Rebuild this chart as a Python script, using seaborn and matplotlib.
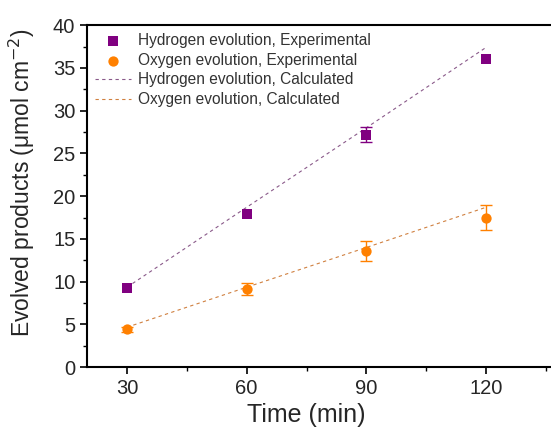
import matplotlib
matplotlib.use("Agg")
import matplotlib.pyplot as plt
import seaborn as sns
import pandas as pd
from matplotlib.ticker import MultipleLocator

# tiempos y valores
tiempo = [30, 60, 90, 120]
h2_exp = [9.3, 17.95, 27.2, 36.0]
h2_err = [0.0, 0.0, 0.85, 0.0]
o2_exp = [4.45, 9.1, 13.6, 17.5]
o2_err = [0.3, 0.7, 1.2, 1.5]
h2_calc = [9.35, 18.7, 28.0, 37.4]
o2_calc = [4.67, 9.35, 14.0, 18.7]

morado = "#800080"
naranja = "#FF8000"

sns.set_style("ticks")
plt.rcParams["font.family"] = ["Liberation Sans", "DejaVu Sans"]

fig = plt.figure(figsize=(5.51, 4.34), dpi=100)
ax = fig.add_axes([0.158, 0.154, 0.869, 0.788])

df = pd.DataFrame({"t": tiempo, "h2": h2_exp, "o2": o2_exp,
                   "h2e": h2_err, "o2e": o2_err,
                   "h2c": h2_calc, "o2c": o2_calc})

# solo barras de error donde hay error
for col, err, c in [("h2", "h2e", morado), ("o2", "o2e", naranja)]:
    sub = df[df[err] > 0]
    ax.errorbar(sub["t"], sub[col], yerr=sub[err], fmt="none", ecolor=c,
                elinewidth=1, capsize=4, zorder=2)

sns.scatterplot(data=df, x="t", y="h2", marker="s", s=50, color=morado,
                edgecolor=morado, linewidth=0, ax=ax, zorder=3,
                label="Hydrogen evolution, Experimental")
sns.scatterplot(data=df, x="t", y="o2", marker="o", s=55, color=naranja,
                edgecolor=naranja, linewidth=0, ax=ax, zorder=3,
                label="Oxygen evolution, Experimental")
sns.lineplot(data=df, x="t", y="h2c", color="#8a5a8a", linewidth=0.8,
             linestyle=(0, (3, 3)), ax=ax, zorder=1,
             label="Hydrogen evolution, Calculated")
sns.lineplot(data=df, x="t", y="o2c", color="#d08040", linewidth=0.8,
             linestyle=(0, (3, 3)), ax=ax, zorder=1,
             label="Oxygen evolution, Calculated")

ax.set_xlim(20, 140)
ax.set_ylim(0, 40)
ax.set_xticks(tiempo)
ax.xaxis.set_minor_locator(MultipleLocator(15))
ax.yaxis.set_major_locator(MultipleLocator(5))
ax.yaxis.set_minor_locator(MultipleLocator(2.5))
ax.tick_params(axis="both", which="major", direction="out", length=5,
               width=1.2, labelsize=14.5, color="black")
ax.tick_params(axis="both", which="minor", direction="out", length=3,
               width=1.0, color="black")
for s in ["left", "bottom", "top"]:
    ax.spines[s].set_linewidth(1.5)
    ax.spines[s].set_color("black")
ax.spines["right"].set_visible(False)

ax.set_xlabel("Time (min)", fontsize=18)
ax.set_ylabel("Evolved products (μmol cm$^{-2}$)", fontsize=16.5)
ax.xaxis.set_label_coords(0.457, -0.105)
ax.yaxis.set_label_coords(-0.105, 0.54)

leg = ax.legend(loc="upper left", frameon=False, fontsize=11.2,
                handlelength=2.3, handletextpad=0.5, borderaxespad=0.1,
                borderpad=0.4, labelspacing=0.3)
for t in leg.get_texts():
    t.set_color("#333333")

plt.savefig("out.png", dpi=100)
plt.close()
